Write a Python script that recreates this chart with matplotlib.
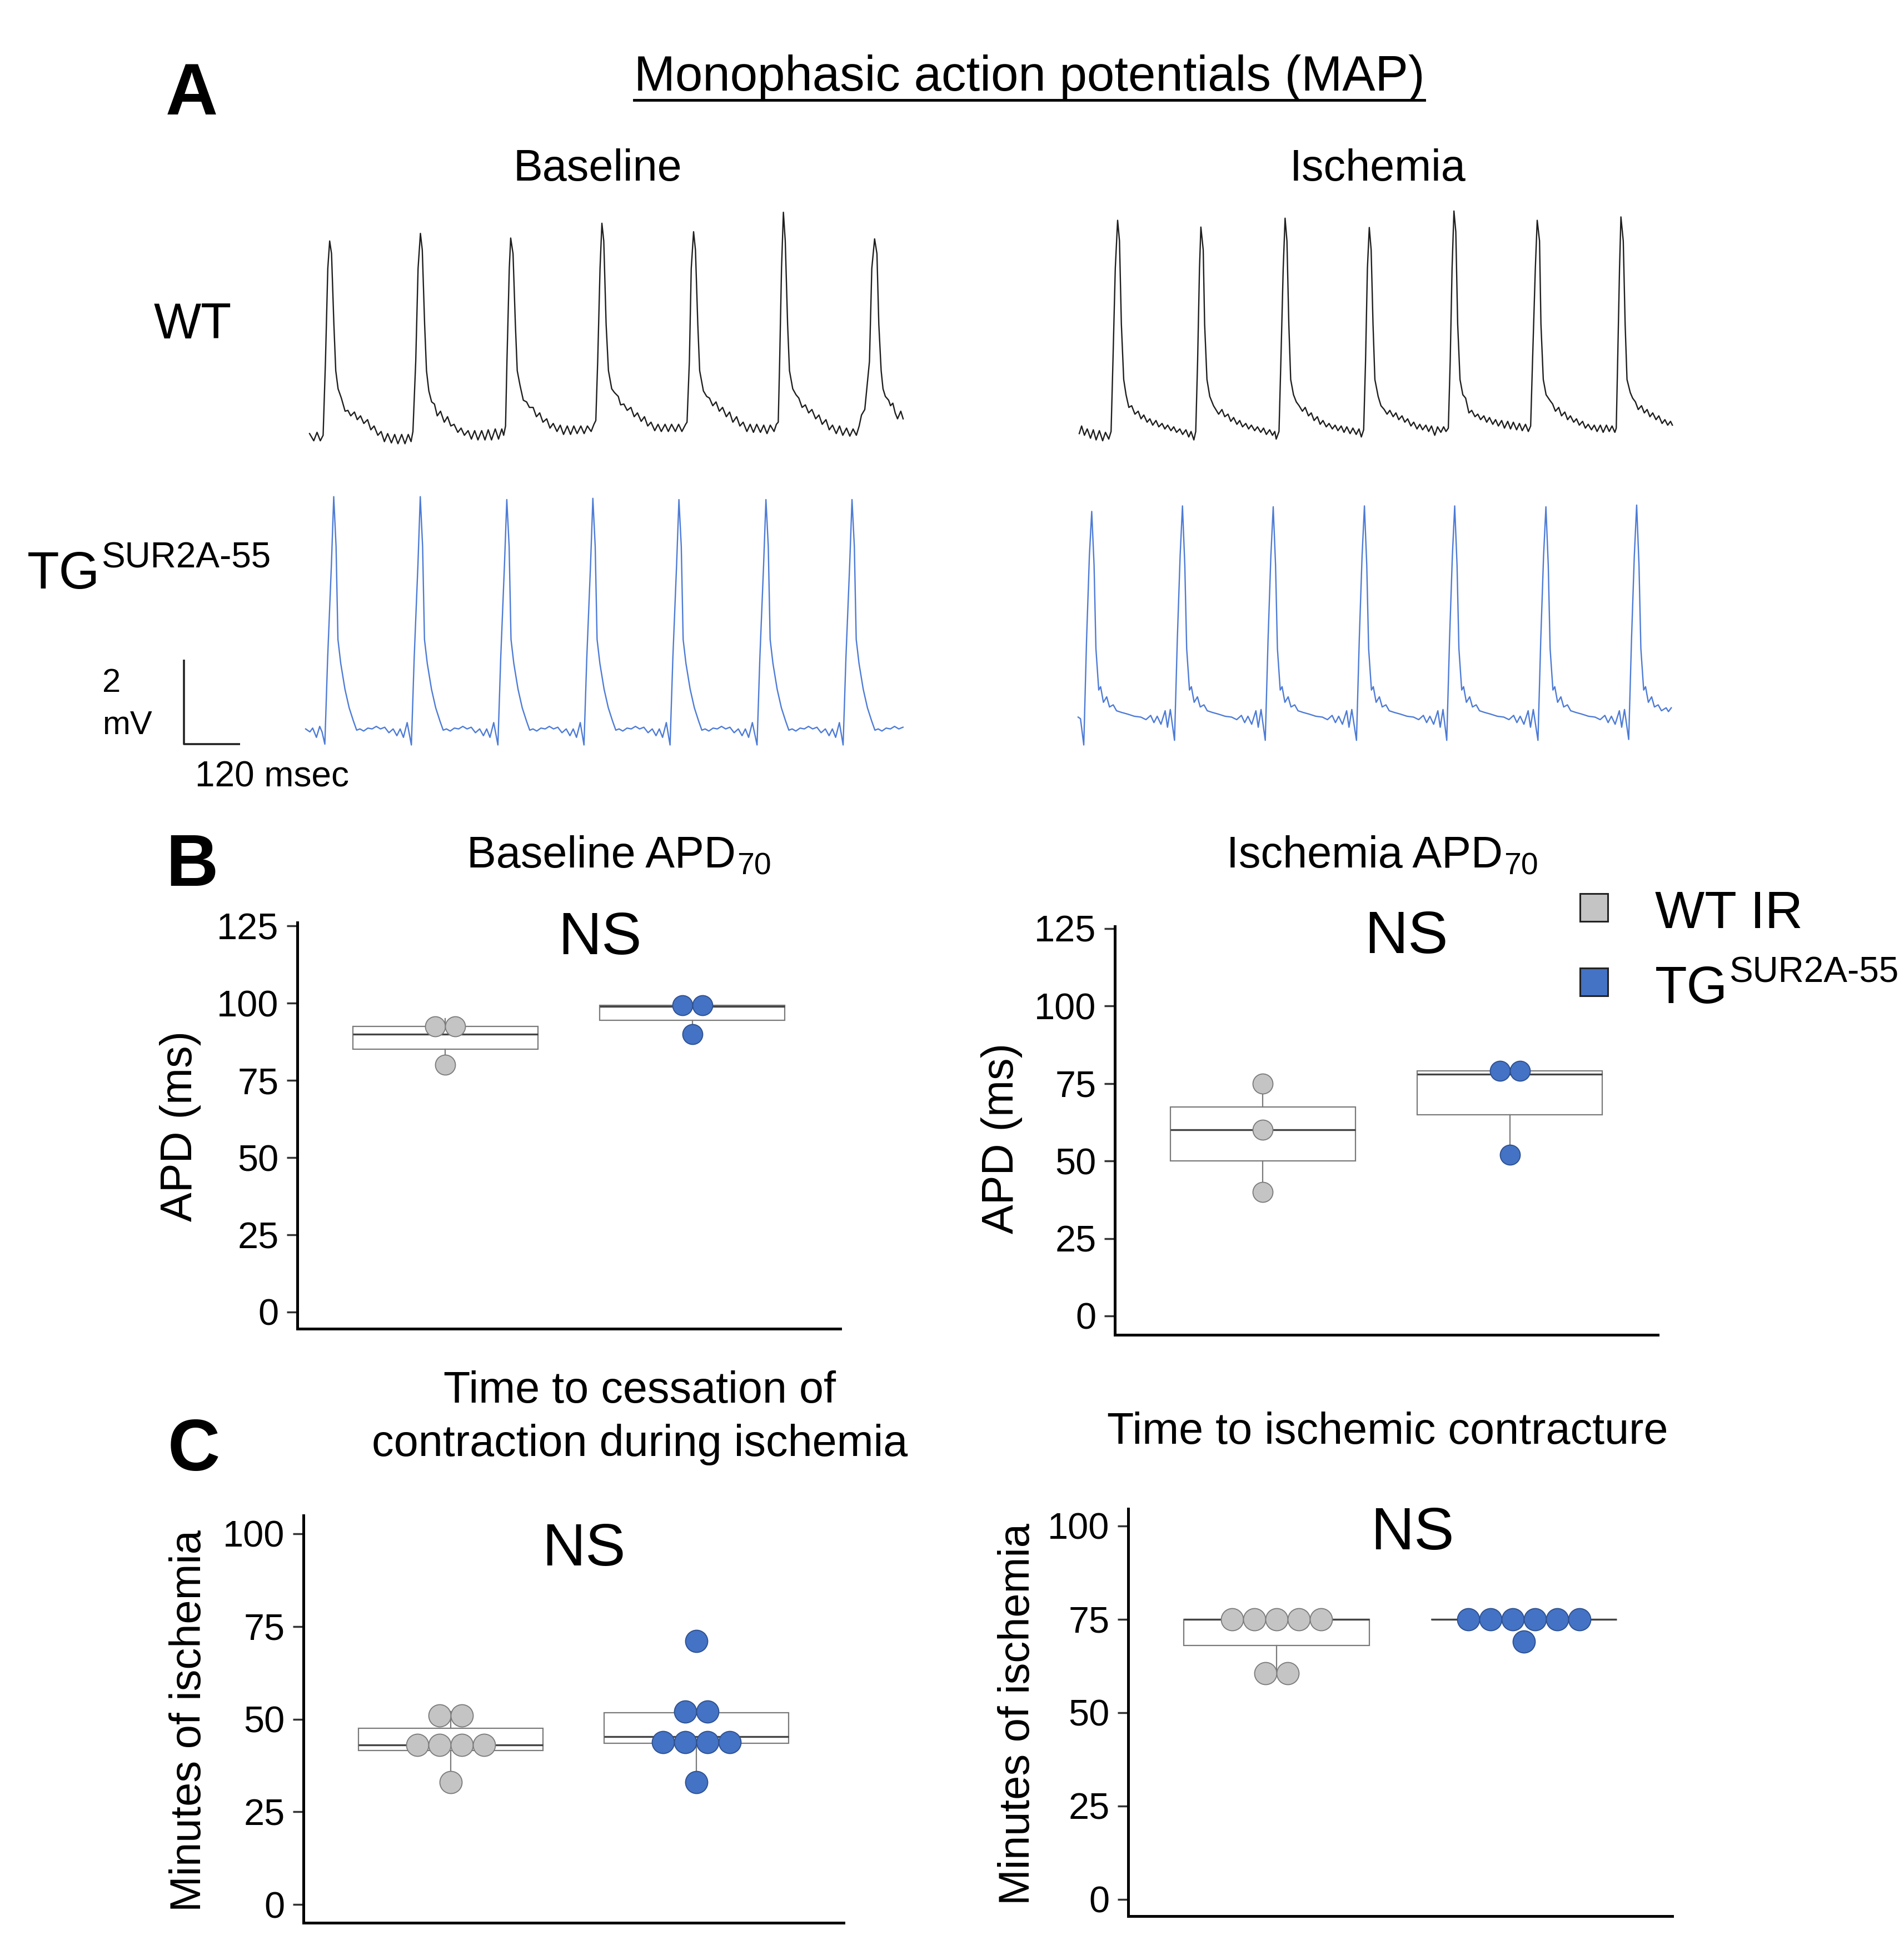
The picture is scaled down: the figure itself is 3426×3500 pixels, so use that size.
import numpy as np
import matplotlib
matplotlib.use("Agg")
import matplotlib.pyplot as plt
from matplotlib.lines import Line2D
from matplotlib.patches import Rectangle

plt.rcParams["font.family"] = ["Liberation Sans", "DejaVu Sans"]

W, H, DPI = 3426, 3500, 100

# ---------------- Panel A: MAP traces (time in ms, voltage in mV) ----------------
wt_baseline = [
    (0, .26), (9, .09), (16, .29), (23, .09), (29, .22), (34, 1.97), (39, 4.17), (43, 4.82), (47, 4.52),
    (52, 2.85), (56, 1.75), (61, 1.32), (68, 1.10), (76, .79), (82, .81), (88, .68), (96, .77), (102, .59),
    (109, .68), (116, .50), (124, .59), (131, .35), (138, .44), (146, .22), (153, .31), (160, .07), (167, .26),
    (175, .04), (182, .24), (189, .02), (197, .24), (204, .02), (211, .24), (217, .07), (221, .31),
    (227, 1.97), (232, 4.17), (237, 5.00), (241, 4.61), (246, 2.85), (250, 1.75), (255, 1.27), (261, 1.01),
    (267, .96), (273, .68), (280, .79), (288, .53), (295, .66), (302, .44), (309, .48), (317, .29), (324, .39),
    (331, .22), (339, .33), (346, .13), (353, .33), (360, .11), (368, .33), (375, .11), (382, .35), (389, .11),
    (397, .37), (404, .13), (411, .37), (415, .22), (419, .44),
    (422, 1.97), (427, 4.17), (430, 4.89), (435, 4.52), (440, 2.85), (444, 1.75), (450, 1.40), (457, 1.05),
    (464, 1.01), (470, .88), (478, .88), (485, .66), (492, .75), (499, .53), (507, .61), (514, .39), (521, .50),
    (529, .31), (536, .46), (543, .24), (551, .44), (558, .24), (565, .44), (572, .26), (580, .44), (587, .26),
    (594, .44), (602, .31), (608, .48), (612, .57),
    (616, 1.97), (621, 4.17), (625, 5.24), (629, 4.82), (634, 2.85), (639, 1.75), (646, 1.32), (652, 1.23),
    (660, 1.14), (665, .94), (672, .96), (679, .81), (687, .88), (694, .66), (701, .75), (709, .55), (716, .66),
    (723, .44), (730, .53), (738, .33), (745, .48), (752, .31), (760, .48), (767, .31), (774, .48), (782, .31),
    (789, .48), (796, .31), (804, .48), (807, .53),
    (812, 1.97), (816, 4.17), (821, 5.04), (825, 4.61), (830, 2.85), (834, 1.75), (842, 1.27), (849, 1.14),
    (855, 1.10), (862, .92), (869, 1.01), (876, .79), (883, .88), (891, .66), (898, .77), (905, .53), (913, .66),
    (920, .44), (927, .53), (935, .31), (942, .48), (949, .29), (956, .48), (964, .29), (971, .46), (978, .26),
    (985, .46), (993, .31), (998, .48), (1002, .53),
    (1005, 1.97), (1009, 4.17), (1013, 5.50), (1017, 4.82), (1022, 2.85), (1026, 1.75), (1033, 1.32),
    (1040, 1.18), (1046, 1.10), (1053, .88), (1060, .94), (1067, .75), (1074, .83), (1082, .61), (1089, .70),
    (1096, .48), (1104, .59), (1111, .35), (1118, .46), (1126, .26), (1133, .44), (1140, .22), (1148, .39),
    (1155, .20), (1162, .37), (1169, .22), (1175, .44), (1180, .70), (1187, .83),
    (1197, 1.97), (1202, 4.17), (1208, 4.87), (1213, 4.52), (1217, 2.85), (1222, 1.75), (1226, 1.32),
    (1231, 1.14), (1238, 1.05), (1242, .92), (1247, .98), (1252, .75), (1257, .61), (1264, .79), (1269, .61),
]

wt_ischemia = [
    (0, .26), (5, .44), (11, .22), (17, .37), (24, .15), (30, .35), (36, .11), (43, .33), (50, .09), (56, .29),
    (63, .13), (68, .31),
    (72, 1.97), (77, 4.17), (82, 5.31), (86, 4.82), (90, 2.85), (95, 1.54), (100, 1.18), (106, .88), (112, .92),
    (119, .72), (126, .79), (132, .61), (138, .70), (145, .53), (151, .61), (157, .46), (164, .57), (170, .42),
    (177, .50), (183, .37), (189, .46), (196, .33), (202, .42), (208, .29), (215, .37), (221, .24), (228, .35),
    (234, .18), (239, .31), (245, .11), (249, .31),
    (253, 1.97), (257, 4.17), (260, 5.15), (265, 4.61), (268, 2.85), (273, 1.54), (279, 1.14), (287, .92),
    (292, .83), (298, .72), (305, .83), (311, .66), (318, .72), (324, .55), (330, .64), (337, .48), (343, .57),
    (349, .42), (356, .50), (362, .37), (368, .46), (375, .33), (381, .42), (388, .29), (394, .39), (400, .24),
    (407, .35), (413, .22), (418, .31), (421, .13), (427, .31),
    (431, 1.97), (436, 4.17), (440, 5.36), (444, 4.82), (448, 2.85), (452, 1.54), (458, 1.18), (464, 1.01),
    (470, .92), (477, .79), (483, .88), (490, .68), (496, .75), (502, .57), (509, .66), (515, .48), (521, .57),
    (528, .42), (534, .50), (541, .37), (547, .46), (553, .33), (560, .44), (566, .29), (572, .42), (579, .26),
    (585, .39), (592, .24), (598, .37), (603, .18), (608, .35),
    (612, 1.97), (616, 4.17), (620, 5.14), (624, 4.61), (628, 2.85), (632, 1.54), (639, 1.14), (645, .92),
    (652, .83), (658, .72), (664, .81), (671, .66), (677, .75), (683, .59), (690, .68), (696, .53), (702, .61),
    (709, .44), (715, .53), (722, .37), (728, .48), (734, .35), (741, .46), (747, .31), (753, .44), (760, .22),
    (766, .42), (773, .29), (779, .42), (784, .31), (789, .39),
    (793, 1.97), (797, 4.17), (801, 5.53), (805, 5.04), (809, 2.85), (814, 1.54), (820, 1.18), (826, 1.10),
    (833, .75), (839, .81), (846, .66), (852, .72), (858, .59), (865, .68), (871, .53), (877, .64), (884, .48),
    (890, .59), (896, .44), (903, .57), (909, .39), (916, .55), (922, .37), (928, .53), (935, .35), (941, .50),
    (947, .33), (954, .48), (960, .31), (965, .44),
    (969, 1.97), (975, 4.17), (979, 5.31), (984, 4.82), (987, 2.85), (992, 1.54), (998, 1.18), (1006, 1.05),
    (1012, .96), (1018, .79), (1025, .88), (1031, .68), (1038, .77), (1044, .59), (1050, .68), (1057, .53),
    (1063, .61), (1069, .46), (1076, .55), (1082, .39), (1088, .48), (1095, .35), (1101, .46), (1107, .31),
    (1114, .46), (1120, .29), (1127, .46), (1133, .31), (1139, .44), (1145, .29), (1148, .39),
    (1151, 1.97), (1155, 4.17), (1158, 5.39), (1163, 4.82), (1167, 2.85), (1171, 1.54), (1178, 1.23),
    (1183, 1.10), (1189, 1.01), (1195, .83), (1202, .92), (1208, .75), (1214, .83), (1220, .66), (1226, .75),
    (1233, .59), (1239, .68), (1246, .50), (1252, .59), (1258, .46), (1264, .55), (1268, .46),
]

tg_baseline = [
    (0, .07), (9, .00), (15, .09), (23, -.13), (30, .13), (35, .00),
    (41, -.29), (47, 1.75), (55, 3.95), (60, 5.57), (65, 4.39), (69, 2.19), (75, 1.62), (84, 1.01), (93, .57),
    (102, .26), (109, .04), (116, .07), (124, .02), (133, .09), (142, .07), (151, .13), (160, .07), (169, .11),
    (178, -.02), (187, .07), (195, -.09), (202, .07), (209, -.13), (217, .22),
    (226, -.31), (232, 1.75), (240, 3.95), (245, 5.57), (250, 4.39), (254, 2.19), (260, 1.62), (269, 1.01),
    (278, .57), (287, .26), (294, .04), (301, .07), (309, .02), (318, .09), (327, .07), (336, .13), (345, .07),
    (354, .11), (363, -.02), (372, .07), (380, -.09), (387, .07), (394, -.13), (402, .22),
    (411, -.31), (417, 1.75), (425, 3.95), (430, 5.50), (435, 4.39), (439, 2.19), (445, 1.62), (454, 1.01),
    (463, .57), (472, .26), (479, .04), (486, .07), (494, .02), (503, .09), (512, .07), (521, .13), (530, .07),
    (539, .11), (548, -.02), (557, .07), (565, -.09), (572, .07), (579, -.13), (587, .22),
    (595, -.31), (601, 1.75), (609, 3.95), (614, 5.53), (619, 4.39), (623, 2.19), (629, 1.62), (638, 1.01),
    (647, .57), (656, .26), (663, .04), (670, .07), (678, .02), (687, .09), (696, .07), (705, .13), (714, .07),
    (723, .11), (732, -.02), (741, .07), (749, -.09), (756, .07), (763, -.13), (771, .22),
    (779, -.31), (785, 1.75), (793, 3.95), (798, 5.50), (803, 4.39), (807, 2.19), (813, 1.62), (822, 1.01),
    (831, .57), (840, .26), (847, .04), (854, .07), (862, .02), (871, .09), (880, .07), (889, .13), (898, .07),
    (907, .11), (916, -.02), (925, .07), (933, -.09), (940, .07), (947, -.13), (955, .22),
    (965, -.31), (971, 1.75), (979, 3.95), (984, 5.50), (989, 4.39), (993, 2.19), (999, 1.62), (1008, 1.01),
    (1017, .57), (1026, .26), (1033, .04), (1040, .07), (1048, .02), (1057, .09), (1066, .07), (1075, .13),
    (1084, .07), (1093, .11), (1102, -.02), (1111, .07), (1119, -.09), (1126, .07), (1133, -.13), (1141, .22),
    (1149, -.31), (1155, 1.75), (1163, 3.95), (1168, 5.50), (1173, 4.39), (1177, 2.19), (1183, 1.62),
    (1192, 1.01), (1201, .57), (1210, .26), (1217, .04), (1224, .07), (1232, .02), (1241, .09), (1250, .07),
    (1259, .13), (1268, .07), (1277, .11),
]

tg_ischemia = [
    (0, .35), (5, .31),
    (12, -.31), (18, 2.19), (24, 4.17), (29, 5.22), (34, 3.95), (38, 1.97), (44, .99), (48, 1.07), (54, .70),
    (61, .83), (67, .59), (75, .64), (82, .50), (93, .46), (106, .42), (120, .37), (134, .35), (145, .29),
    (155, .39), (162, .22), (169, .37), (177, .18), (186, .50), (191, .11), (197, .53),
    (206, -.20), (212, 2.19), (218, 4.17), (223, 5.35), (228, 3.95), (232, 1.97), (238, .99), (242, 1.07),
    (248, .70), (255, .83), (261, .59), (269, .64), (276, .50), (287, .46), (300, .42), (314, .37), (328, .35),
    (339, .29), (349, .39), (356, .22), (363, .37), (371, .18), (380, .50), (385, .11), (391, .53),
    (400, -.20), (406, 2.19), (412, 4.17), (417, 5.33), (422, 3.95), (426, 1.97), (432, .99), (436, 1.07),
    (442, .70), (449, .83), (455, .59), (463, .64), (470, .50), (481, .46), (494, .42), (508, .37), (522, .35),
    (533, .29), (543, .39), (550, .22), (557, .37), (565, .18), (574, .50), (579, .11), (585, .53),
    (595, -.20), (601, 2.19), (607, 4.17), (612, 5.35), (617, 3.95), (621, 1.97), (627, .99), (631, 1.07),
    (637, .70), (644, .83), (650, .59), (658, .64), (665, .50), (676, .46), (689, .42), (703, .37), (717, .35),
    (728, .29), (738, .39), (745, .22), (752, .37), (760, .18), (769, .50), (774, .11), (780, .53),
    (788, -.20), (794, 2.19), (800, 4.17), (805, 5.35), (810, 3.95), (814, 1.97), (820, .99), (824, 1.07),
    (830, .70), (837, .83), (843, .59), (851, .64), (858, .50), (869, .46), (882, .42), (896, .37), (910, .35),
    (921, .29), (931, .39), (938, .22), (945, .37), (953, .18), (962, .50), (967, .11), (973, .53),
    (983, -.20), (989, 2.19), (995, 4.17), (1000, 5.33), (1005, 3.95), (1009, 1.97), (1015, .99), (1019, 1.07),
    (1025, .70), (1032, .83), (1038, .59), (1046, .64), (1053, .50), (1064, .46), (1077, .42), (1091, .37),
    (1105, .35), (1116, .29), (1126, .39), (1133, .22), (1140, .37), (1148, .18), (1157, .50), (1162, .11),
    (1168, .53),
    (1177, -.18), (1183, 2.19), (1189, 4.17), (1194, 5.37), (1199, 3.95), (1203, 1.97), (1209, .99),
    (1213, 1.07), (1219, .70), (1226, .83), (1232, .59), (1240, .64), (1247, .50), (1257, .57), (1262, .48),
    (1268, .57),
]

SCALE_MS = 120
SCALE_MV = 2

# ---------------- Panel B: APD70 (ms) ----------------
apd_base_wt = [80, 90, 95]
apd_base_tg = [90, 99, 99.5]
apd_isch_wt = [40, 60, 75]
apd_isch_tg = [52, 78, 80]

# ---------------- Panel C: minutes of ischemia ----------------
cessation_wt = [33, 41, 42, 43, 45, 50, 52]
cessation_tg = [33, 42, 44, 45, 45.5, 51.5, 52.5, 71]
contracture_wt = [60, 61, 75, 75, 75, 75, 75]
contracture_tg = [69, 75, 75, 75, 75, 75, 75]

WT_FILL, WT_EDGE = "#c4c4c4", "#7a7a7a"
TG_FILL, TG_EDGE = "#4472c4", "#2c4f8f"
TRACE_WT = "#1e1e1e"
TRACE_TG = "#4d7bd6"
BOX_EDGE = "#7a7a7a"
BOX_MED = "#444444"

PX_PER_MS = 101 / 120
PX_PER_MV = 152 / 2

fig = plt.figure(figsize=(W / DPI, H / DPI), dpi=DPI)
renderer = fig.canvas.get_renderer()


def px(x, y):
    return x / W, 1 - y / H


def add_axes_px(left, top, right, bottom):
    return fig.add_axes([left / W, 1 - bottom / H, (right - left) / W, (bottom - top) / H])


def ftext(x, y, s, **kw):
    kw.setdefault("va", "baseline")
    return fig.text(*px(x, y), s, **kw)


def script_text(x, y, base, script, size, ssize, kind="sup", ha="left"):
    t1 = ftext(x, y, base, fontsize=size, ha="left")
    t2 = ftext(x, y, script, fontsize=ssize, ha="left")
    w1 = t1.get_window_extent(renderer).width
    w2 = t2.get_window_extent(renderer).width
    left = x - (w1 + w2) / 2 if ha == "center" else x
    t1.set_position(px(left, y))
    shift = -0.40 * size * DPI / 72 if kind == "sup" else 0.16 * size * DPI / 72
    t2.set_position(px(left + w1 + 2, y + shift))


def trace_axes(x0, y0, t_lo, t_hi, v_lo, v_hi):
    ax = add_axes_px(x0 + t_lo * PX_PER_MS, y0 - v_hi * PX_PER_MV,
                     x0 + t_hi * PX_PER_MS, y0 - v_lo * PX_PER_MV)
    ax.set_xlim(t_lo, t_hi)
    ax.set_ylim(v_lo, v_hi)
    ax.axis("off")
    return ax


def dot_bins(values, binwidth):
    # ggplot-style dot density binning
    bins, end = [], -np.inf
    for v in np.sort(values):
        if v >= end:
            bins.append([v])
            end = v + binwidth
        else:
            bins[-1].append(v)
    return [((min(b) + max(b)) / 2, len(b)) for b in bins]


def box_panel(rect, ylim, ticks, wt, tg, binwidth, dot_px):
    ax = add_axes_px(*rect)
    ax.boxplot([wt, tg], positions=[1, 2], widths=0.75, whis=1.5, showfliers=False,
               showcaps=False, patch_artist=True,
               boxprops=dict(facecolor="white", edgecolor=BOX_EDGE, linewidth=1.6),
               medianprops=dict(color=BOX_MED, linewidth=2.4),
               whiskerprops=dict(color=BOX_EDGE, linewidth=1.6))
    ax.set_xlim(0.4, 2.6)
    ax.set_ylim(*ylim)
    step = dot_px / ((rect[2] - rect[0]) / 2.2)
    for pos, vals, fc, ec in [(1, wt, WT_FILL, WT_EDGE), (2, tg, TG_FILL, TG_EDGE)]:
        for center, n in dot_bins(vals, binwidth):
            xs = pos + (np.arange(n) - (n - 1) / 2) * step
            ax.plot(xs, [center] * n, "o", ms=dot_px * 72 / DPI, mfc=fc, mec=ec, mew=1.3,
                    zorder=3, clip_on=False)
    for side in ["top", "right"]:
        ax.spines[side].set_visible(False)
    for side in ["left", "bottom"]:
        ax.spines[side].set_linewidth(3.6)
        ax.spines[side].set_color("black")
    ax.set_xticks([])
    ax.set_yticks(ticks)
    ax.tick_params(axis="y", length=14, width=2.5, pad=10, labelsize=48, color="#333333")
    ax.set_facecolor("none")
    return ax


# ---------------- Panel A ----------------
ftext(298, 206, "A", fontsize=94, fontweight="bold")
title = ftext(1852, 163, "Monophasic action potentials (MAP)", fontsize=64, ha="center")
bb = title.get_window_extent(renderer)
fig.add_artist(Line2D([bb.x0 / W, bb.x1 / W], [1 - 180 / H, 1 - 180 / H], color="black", lw=3.5))
ftext(1075, 325, "Baseline", fontsize=57, ha="center")
ftext(2479, 325, "Ischemia", fontsize=57, ha="center")
ftext(347, 609, "WT", fontsize=65, ha="center")
script_text(49, 1059, "TG", "SUR2A-55", 68, 46)

for data, x0, y0, color in [(wt_baseline, 557, 800, TRACE_WT), (wt_ischemia, 1942, 800, TRACE_WT),
                            (tg_baseline, 550, 1317, TRACE_TG), (tg_ischemia, 1940, 1317, TRACE_TG)]:
    t, v = np.array(data).T
    ax = trace_axes(x0, y0, -20, 1300, -0.6, 6.0)
    ax.plot(t, v, color=color, lw=1.7)

sb = trace_axes(331, 1339, -5, 130, -0.1, 2.2)
sb.plot([0, 0, SCALE_MS], [SCALE_MV, 0, 0], color="#222222", lw=2.6, solid_capstyle="butt")
ftext(184, 1245, "2", fontsize=43)
ftext(184, 1321, "mV", fontsize=43)
ftext(351, 1415, "120 msec", fontsize=46)

# ---------------- Panel B ----------------
ftext(298, 1594, "B", fontsize=94, fontweight="bold")
script_text(1113, 1561, "Baseline APD", "70", 57, 40, kind="sub", ha="center")
script_text(2486, 1561, "Ischemia APD", "70", 57, 40, kind="sub", ha="center")

box_panel((535, 1660, 1512, 2391), (-5.4, 126.1), [0, 25, 50, 75, 100, 125],
          apd_base_wt, apd_base_tg, 6, 36)
box_panel((2006, 1667, 2983, 2402), (-6.1, 125.7), [0, 25, 50, 75, 100, 125],
          apd_isch_wt, apd_isch_tg, 6, 36)
ftext(1079, 1717, "NS", fontsize=78, ha="center")
ftext(2530, 1715, "NS", fontsize=78, ha="center")
ftext(325, 2026, "APD (ms)", fontsize=57, rotation=90, ha="center", va="center")
ftext(1802, 2049, "APD (ms)", fontsize=57, rotation=90, ha="center", va="center")

# legend
for y_top, fc in [(1608, WT_FILL), (1742, TG_FILL)]:
    fig.add_artist(Rectangle(px(2843, y_top + 50), 50 / W, 50 / H, facecolor=fc,
                             edgecolor="#222222", lw=2.2, transform=fig.transFigure))
ftext(2978, 1670, "WT IR", fontsize=68)
script_text(2978, 1805, "TG", "SUR2A-55", 68, 46)

# ---------------- Panel C ----------------
ftext(302, 2646, "C", fontsize=94, fontweight="bold")
ftext(1151, 2524, "Time to cessation of", fontsize=57, ha="center")
ftext(1151, 2620, "contraction during ischemia", fontsize=57, ha="center")
ftext(2497, 2598, "Time to ischemic contracture", fontsize=57, ha="center")

box_panel((546, 2727, 1518, 3460), (-4.9, 104.9), [0, 25, 50, 75, 100],
          cessation_wt, cessation_tg, 5, 40)
box_panel((2030, 2715, 3009, 3448), (-4.5, 104.6), [0, 25, 50, 75, 100],
          contracture_wt, contracture_tg, 5, 40)
ftext(1050, 2817, "NS", fontsize=78, ha="center")
ftext(2541, 2788, "NS", fontsize=78, ha="center")
ftext(340, 3097, "Minutes of ischemia", fontsize=56, rotation=90, ha="center", va="center")
ftext(1831, 3085, "Minutes of ischemia", fontsize=56, rotation=90, ha="center", va="center")

fig.savefig("out.png", dpi=DPI, facecolor="white")
